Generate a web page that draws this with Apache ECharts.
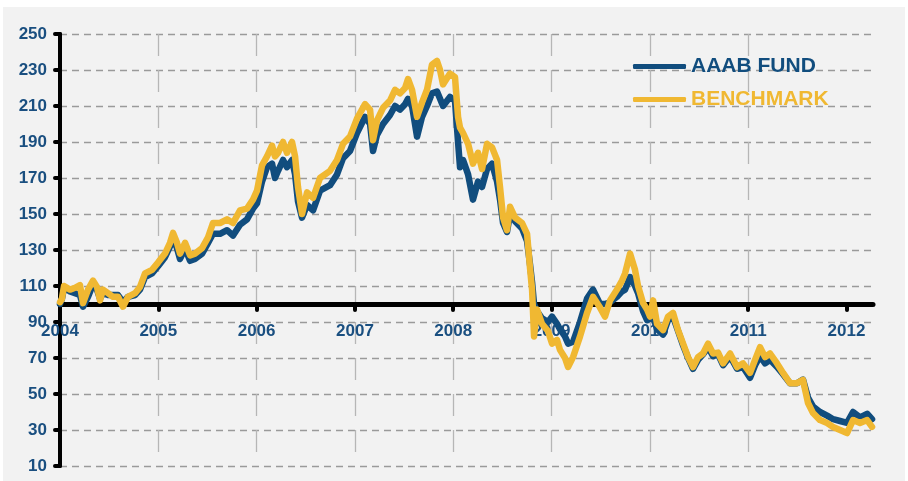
<!DOCTYPE html>
<html>
<head>
<meta charset="utf-8">
<script src="https://cdn.jsdelivr.net/npm/echarts@6/dist/echarts.min.js"></script>
<style>
html,body{margin:0;padding:0;background:#fff;}
#chart{width:908px;height:481px;}
</style>
</head>
<body>
<div id="chart"></div>
<script>
// Time in decimal years
const years = [
  2004.000, 2004.020, 2004.041, 2004.102, 2004.153, 2004.203, 2004.234, 2004.285, 2004.336, 2004.376,
  2004.407, 2004.437, 2004.488, 2004.539, 2004.590, 2004.641, 2004.692, 2004.763, 2004.814, 2004.865,
  2004.936, 2004.997, 2005.068, 2005.119, 2005.150, 2005.190, 2005.221, 2005.272, 2005.323, 2005.373,
  2005.445, 2005.506, 2005.556, 2005.628, 2005.699, 2005.760, 2005.831, 2005.902, 2005.963, 2006.004,
  2006.055, 2006.106, 2006.157, 2006.187, 2006.218, 2006.269, 2006.309, 2006.360, 2006.391, 2006.421,
  2006.462, 2006.513, 2006.574, 2006.645, 2006.747, 2006.818, 2006.879, 2006.950, 2007.021, 2007.103,
  2007.154, 2007.184, 2007.225, 2007.286, 2007.357, 2007.408, 2007.459, 2007.510, 2007.540, 2007.581,
  2007.632, 2007.683, 2007.733, 2007.784, 2007.835, 2007.866, 2007.896, 2007.967, 2008.018, 2008.049,
  2008.069, 2008.100, 2008.151, 2008.201, 2008.252, 2008.293, 2008.344, 2008.395, 2008.446, 2008.476,
  2008.507, 2008.547, 2008.578, 2008.629, 2008.700, 2008.751, 2008.781, 2008.802, 2008.822, 2008.852,
  2008.903, 2008.964, 2009.005, 2009.056, 2009.086, 2009.137, 2009.168, 2009.219, 2009.290, 2009.361,
  2009.422, 2009.493, 2009.544, 2009.595, 2009.666, 2009.717, 2009.748, 2009.799, 2009.849, 2009.880,
  2009.931, 2009.972, 2010.002, 2010.033, 2010.073, 2010.134, 2010.185, 2010.236, 2010.287, 2010.338,
  2010.389, 2010.439, 2010.490, 2010.541, 2010.592, 2010.643, 2010.694, 2010.745, 2010.816, 2010.887,
  2010.948, 2011.019, 2011.070, 2011.121, 2011.172, 2011.223, 2011.294, 2011.355, 2011.426, 2011.497,
  2011.558, 2011.609, 2011.660, 2011.731, 2011.803, 2011.864, 2011.935, 2012.006, 2012.067, 2012.138,
  2012.210, 2012.260
];

const benchmark = [
  101, 103, 110, 108, 109, 110.5, 100.5, 108, 113, 109.5,
  102, 108, 106, 104, 104, 98.5, 104, 106, 109.5, 117,
  119, 123, 128, 134, 139.5, 134, 128, 134, 127, 128,
  131, 137, 145, 145, 147, 145, 152, 153, 158, 163,
  177, 182, 188, 182, 184, 190, 184, 190, 182, 165,
  150, 162, 159, 170, 174, 180, 189, 193, 203, 211,
  208, 191, 202, 209, 213, 219, 217, 220, 225, 219,
  204, 212, 219, 233, 235, 230, 222, 228, 226, 204,
  198, 195, 189, 178, 184, 175, 189, 187, 180, 165,
  148, 141, 154, 148, 145, 139, 120, 108, 82, 97,
  89, 85, 78, 80, 74.5, 70, 65, 70.5, 82, 95,
  104, 98, 93, 102, 108, 113, 117, 128, 119, 110,
  100.5, 97, 93, 102, 89, 85.5, 93, 95, 85.5, 78,
  70.5, 65, 70.5, 72.5, 78, 72.5, 73, 67, 72.5, 65,
  67, 61.7, 69, 76, 70.5, 72.5, 67, 61.7, 56, 56,
  57.8, 45, 39.4, 35.5, 33.9, 31.7, 30, 28.3, 35.5, 33.9,
  35.5, 31.7
];

const fund = [
  100, 103, 109, 107, 106, 105, 98.5, 104, 111, 108,
  103, 106, 105, 105, 105, 101, 104, 105, 108, 115,
  117, 121, 126, 132, 137, 131, 125, 131, 124, 125,
  128, 134, 139, 139, 141, 138, 144, 147, 153, 156,
  168, 176, 178, 170, 174, 180, 176, 180, 172, 157,
  148, 155, 152, 163, 166, 172, 181, 185, 195, 204,
  200, 185, 194, 200, 205, 210, 208, 211, 214, 210,
  193, 204, 210, 217, 218, 214, 210, 215, 213, 190,
  176, 180, 172, 158, 168, 165, 175, 178, 168, 158,
  145, 140, 150, 146, 142, 135, 122, 112, 100, 96,
  92, 90, 93, 89, 86, 82, 78, 79, 90, 103,
  108, 100, 100, 101, 104, 107, 108, 115, 110, 106,
  96, 91, 92, 93, 86, 83, 91, 93, 85, 77,
  70, 64, 69, 72, 76, 71, 72, 66, 71, 64,
  65, 59, 66, 71, 67, 69, 65, 61, 56, 56,
  58, 48, 43, 40, 38, 36, 35, 34, 40, 37,
  39, 36
];

const yearTicks = [2004, 2005, 2006, 2007, 2008, 2009, 2010, 2011, 2012];
const seriesNames = ['AAAB FUND', 'BENCHMARK'];

const FONT = "Arial, 'Liberation Sans', sans-serif";
const LABEL_COLOR = '#1a4f80';
const FUND_COLOR = '#114d7e';
const BENCH_COLOR = '#f0b832';

const chart = echarts.init(document.getElementById('chart'), null, {renderer: 'canvas'});

const option = {
  backgroundColor: '#ffffff',
  animation: false,
  graphic: [{
    type: 'rect',
    silent: true,
    z: -100,
    shape: {x: 3, y: 7, width: 902, height: 474},
    style: {fill: '#f2f2f2'}
  }],
  grid: {left: 60, right: 35, top: 34, bottom: 15, containLabel: false},
  legend: {
    orient: 'vertical',
    left: 633,
    top: 56,
    padding: 0,
    itemWidth: 53,
    itemHeight: 5,
    itemGap: 12,
    icon: 'roundRect',
    textStyle: {fontSize: 21, fontWeight: 'bold', fontFamily: FONT, lineHeight: 21},
    data: [
      {name: seriesNames[0], textStyle: {color: FUND_COLOR}},
      {name: seriesNames[1], textStyle: {color: BENCH_COLOR}}
    ]
  },
  xAxis: {
    type: 'value',
    min: 2004,
    max: 2012.27,
    interval: 0.5,
    position: 'bottom',
    offset: -162,
    axisLine: {show: true, onZero: false, lineStyle: {color: '#000', width: 5, cap: 'round'}},
    axisTick: {show: true, customValues: yearTicks, length: 6, lineStyle: {color: '#000', width: 4, cap: 'round'}},
    axisLabel: {
      customValues: yearTicks,
      margin: 19,
      color: LABEL_COLOR,
      fontSize: 17,
      fontWeight: 'bold',
      fontFamily: FONT,
      formatter: function (v) { return Math.abs(v - Math.round(v)) < 1e-6 ? String(Math.round(v)) : ''; }
    },
    splitLine: {show: true, showMaxLine: false, showMinLine: false, lineStyle: {color: '#b6b6b6', width: 1.3, type: [22, 14]}}
  },
  yAxis: {
    type: 'value',
    min: 10,
    max: 250,
    interval: 20,
    axisLine: {show: true, onZero: false, lineStyle: {color: '#000', width: 4, cap: 'round'}},
    axisTick: {show: true, length: 5, lineStyle: {color: '#000', width: 4, cap: 'round'}},
    axisLabel: {margin: 13, color: LABEL_COLOR, fontSize: 17, fontWeight: 'bold', fontFamily: FONT},
    splitLine: {show: true, lineStyle: {color: '#9a9a9a', width: 1.3, type: [7, 5]}}
  },
  series: [
    {
      name: seriesNames[0],
      type: 'line',
      showSymbol: false,
      z: 2,
      color: FUND_COLOR,
      lineStyle: {width: 6.5, color: FUND_COLOR, join: 'round', cap: 'round'},
      data: years.map((t, i) => [t, fund[i]])
    },
    {
      name: seriesNames[1],
      type: 'line',
      showSymbol: false,
      z: 3,
      color: BENCH_COLOR,
      lineStyle: {width: 6.5, color: BENCH_COLOR, join: 'round', cap: 'round'},
      data: years.map((t, i) => [t, benchmark[i]])
    }
  ]
};

chart.setOption(option);
</script>
</body>
</html>
